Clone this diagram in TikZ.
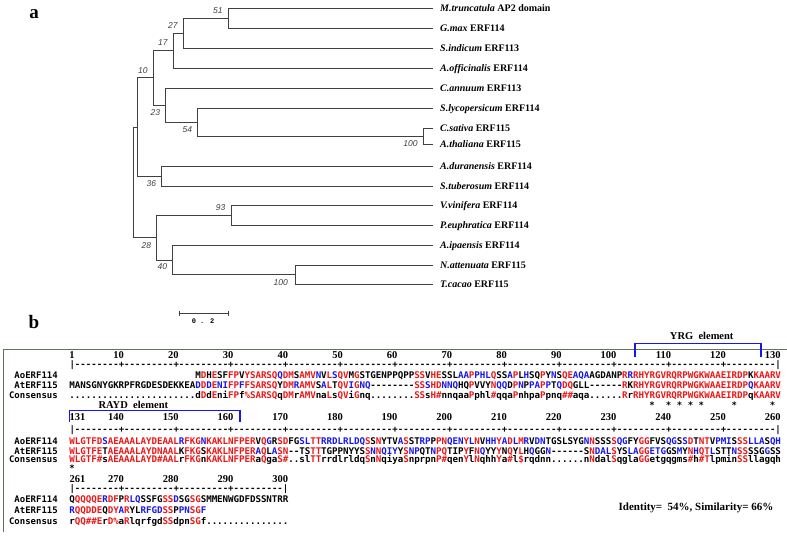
\documentclass[tikz,border=0pt]{standalone}
\usepackage{fontspec}
\setmainfont{Liberation Serif}
\newfontfamily\alnfont{DejaVu Sans Mono}
\newfontfamily\bootfont{Liberation Sans}
\newfontfamily\barfont{Liberation Mono}
\definecolor{alnred}{RGB}{238,22,22}
\definecolor{alnblue}{RGB}{22,22,238}
\definecolor{treegray}{RGB}{64,64,64}
\definecolor{framegreen}{RGB}{92,116,92}

\ExplSyntaxOn
\str_new:N \l__aln_seq_str
\str_new:N \l__aln_con_str
\str_new:N \l__aln_r_str
\str_new:N \l__aln_c_str
\dim_const:Nn \c_aln_cw_dim {5.473pt}
\cs_new_protected:Npn \__aln_color:nn #1#2
  {
    \str_if_empty:nTF {#2}
      { \color{black} }
      {
        \str_if_eq:nnTF {#2} {.}
          { \color{black} }
          {
            \tex_uppercase:D { \str_if_eq:nnTF {#2} } {#2}
              { \color{alnred} }
              {
                \tex_uppercase:D { \str_if_eq:nnTF {#2} } {#1}
                  { \color{alnblue} }
                  { \color{black} }
              }
          }
      }
  }
\cs_new_protected:Npn \__aln_put:nn #1#2
  {
    \hbox_to_wd:nn { \c_aln_cw_dim }
      {
        \hss
        \__aln_color:nn {#1} {#2}
        \str_case:nnF {#1}
          { {_} {} {1} {\#} {2} {\%} {3} {\$} }
          {#1}
        \hss
      }
  }
\cs_generate_variant:Nn \__aln_put:nn { VV }
\NewDocumentCommand \alnseq { O{0} m m }
  {
    \str_set:Nx \l__aln_seq_str {#2}
    \str_set:Nx \l__aln_con_str {#3}
    \skip_horizontal:n { #1 \c_aln_cw_dim }
    \int_step_inline:nn { \str_count:N \l__aln_seq_str }
      {
        \str_set:Nx \l__aln_r_str { \str_item:Nn \l__aln_seq_str {##1} }
        \str_set:Nx \l__aln_c_str { \str_item:Nn \l__aln_con_str { ##1 + #1 } }
        \__aln_put:VV \l__aln_r_str \l__aln_c_str
      }
  }
\NewDocumentCommand \alnruler { m m }
  {
    \int_step_inline:nn {#1}
      {
        \hbox_to_wd:nn { \c_aln_cw_dim }
          {
            \hss
            \bool_if:nTF { \int_compare_p:n { ##1 = 1 } || \int_compare_p:n { ##1 = #1 } }
              { | }
              {
                \int_compare:nNnTF { \int_mod:nn { ##1 + #2 - 1 } {10} } = {0}
                  { + } { - }
              }
            \hss
          }
      }
  }
\ExplSyntaxOff

\newcommand\consone{.......................dDdEniFPf2SARSQqDMrAMVnaLsQViGnq........SSsH1nnqaaPphl1qqaPnhpaPpnq11aqa......RrRHYRGVRQRPWGKWAAEIRDPqKAARV}
\newcommand\constwo{WLGTF1sAEAAALAYD1AALrFKGnKAKLNFPERaQgaS1..slTTrrdlrldqSnNqiyaSnprpnP1qenYlNqhhYa1l3rqdnn......nNdalSqglaGGetgqgms1h1TlpminSSllagqh}
\newcommand\consthree{rQQ11ErD2aRlqrfgdSSdpnSGf...............}

\begin{document}
\begin{tikzpicture}[x=1pt,y=-1pt,
    branch/.style={draw=treegray,line width=0.8pt},
    taxon/.style={anchor=west,inner xsep=7pt,inner ysep=0pt,text height=7.5pt,text depth=1.5pt,font=\fontsize{10}{12}\selectfont\bfseries},
    boot/.style={anchor=east,xshift=-5.5pt,inner sep=0pt,text=treegray,font=\bootfont\itshape\fontsize{8.5}{10}\selectfont},
    panel/.style={inner sep=0pt,font=\fontsize{19}{22}\selectfont\bfseries},
    seqrow/.style={anchor=base west,inner sep=0pt,font=\alnfont\bfseries\fontsize{9.2}{10}\selectfont},
    seqname/.style={anchor=base east,inner sep=0pt,font=\alnfont\bfseries\fontsize{9}{10}\selectfont},
    rulerow/.style={anchor=west,inner sep=0pt,font=\alnfont\bfseries\fontsize{9}{10}\selectfont},
    rulenum/.style={inner sep=0pt,font=\fontsize{10.5}{12}\selectfont\bfseries},
    starmark/.style={inner sep=0pt,font=\alnfont\bfseries\fontsize{9}{10}\selectfont},
    element/.style={draw=alnblue,line width=1.3pt},
    elemtext/.style={inner sep=0pt,font=\fontsize{10.5}{12}\selectfont\bfseries}
  ]
  \useasboundingbox (0,0) rectangle (787,536);

  \node[panel] (pa) at (34,14) {a};
  \node[panel] (pb) at (34,322) {b};

  \node[taxon] (mtru) at (433,8) {\textit{M.truncatula} AP2 domain};
  \node[taxon] (gmax) at (433,28) {\textit{G.max} ERF114};
  \node[taxon] (sind) at (433,48) {\textit{S.indicum} ERF113};
  \node[taxon] (aoff) at (433,68) {\textit{A.officinalis} ERF114};
  \node[taxon] (cann) at (433,88) {\textit{C.annuum} ERF113};
  \node[taxon] (slyc) at (433,108) {\textit{S.lycopersicum} ERF114};
  \node[taxon] (csat) at (433,128) {\textit{C.sativa} ERF115};
  \node[taxon] (atha) at (433,144) {\textit{A.thaliana} ERF115};
  \node[taxon] (adur) at (433,166) {\textit{A.duranensis} ERF114};
  \node[taxon] (stub) at (433,186) {\textit{S.tuberosum} ERF114};
  \node[taxon] (vvin) at (433,205.5) {\textit{V.vinifera} ERF114};
  \node[taxon] (peup) at (433,225) {\textit{P.euphratica} ERF114};
  \node[taxon] (aipa) at (433,245) {\textit{A.ipaensis} ERF114};
  \node[taxon] (natt) at (433,265) {\textit{N.attenuata} ERF115};
  \node[taxon] (tcac) at (433,284.5) {\textit{T.cacao} ERF115};

  \coordinate (root) at (133.3,182.2);
  \coordinate (n0) at (137.7,126.9);
  \coordinate (n10) at (153.3,77.75);
  \coordinate (n17) at (173.3,50.5);
  \coordinate (n27) at (183.3,33);
  \coordinate (n51) at (228.3,18);
  \coordinate (n23) at (165.7,105);
  \coordinate (n54) at (197.7,122);
  \coordinate (n100a) at (423.3,136);
  \coordinate (n36) at (161.7,176);
  \coordinate (n28) at (156.7,237.6);
  \coordinate (n93) at (231,215.25);
  \coordinate (n40) at (172.7,259.9);
  \coordinate (n100b) at (295,274.75);

  \draw[branch] (root) |- (n0);
  \draw[branch] (root) |- (n28);
  \draw[branch] (n0) |- (n10);
  \draw[branch] (n0) |- (n36);
  \draw[branch] (n10) |- (n17);
  \draw[branch] (n10) |- (n23);
  \draw[branch] (n17) |- (n27);
  \draw[branch] (n17) |- (aoff.west);
  \draw[branch] (n27) |- (n51);
  \draw[branch] (n27) |- (sind.west);
  \draw[branch] (n51) |- (mtru.west);
  \draw[branch] (n51) |- (gmax.west);
  \draw[branch] (n23) |- (cann.west);
  \draw[branch] (n23) |- (n54);
  \draw[branch] (n54) |- (slyc.west);
  \draw[branch] (n54) |- (n100a);
  \draw[branch] (n100a) |- (csat.west);
  \draw[branch] (n100a) |- (atha.west);
  \draw[branch] (n36) |- (adur.west);
  \draw[branch] (n36) |- (stub.west);
  \draw[branch] (n28) |- (n93);
  \draw[branch] (n28) |- (n40);
  \draw[branch] (n93) |- (vvin.west);
  \draw[branch] (n93) |- (peup.west);
  \draw[branch] (n40) |- (aipa.west);
  \draw[branch] (n40) |- (n100b);
  \draw[branch] (n100b) |- (natt.west);
  \draw[branch] (n100b) |- (tcac.west);

  \node[boot,yshift=7pt] (b51) at (n51) {51};
  \node[boot,yshift=7.5pt] (b27) at (n27) {27};
  \node[boot,yshift=7.5pt] (b17) at (n17) {17};
  \node[boot,yshift=7.5pt] (b10) at (n10) {10};
  \node[boot,yshift=-7.5pt] (b23) at (n23) {23};
  \node[boot,yshift=-7.5pt] (b54) at (n54) {54};
  \node[boot,yshift=-8pt] (b100a) at (n100a) {100};
  \node[boot,yshift=-8pt] (b36) at (n36) {36};
  \node[boot,yshift=-7.5pt] (b28) at (n28) {28};
  \node[boot,yshift=7.5pt] (b93) at (n93) {93};
  \node[boot,yshift=-7pt] (b40) at (n40) {40};
  \node[boot,yshift=-8pt,xshift=-1.5pt] (b100b) at (n100b) {100};

  \coordinate (sbl) at (179.3,313.3);
  \coordinate (sbr) at (228.3,313.3);
  \draw[branch] (sbl) -- (sbr);
  \draw[branch] ([yshift=2.5pt]sbl) -- ([yshift=-2.5pt]sbl);
  \draw[branch] ([yshift=2.5pt]sbr) -- ([yshift=-2.5pt]sbr);
  \node[inner sep=0pt,font=\barfont\bfseries\fontsize{7}{8}\selectfont] (sbtext) at (203,321.5) {0 . 2};

  \draw[framegreen,line width=1pt] (3.3,532) -- (3.3,349.3) -- (787,349.3);

  \draw[element] (635,356.7) -- (635,343.3) -- (761,343.3) -- (761,356.7);
  \node[elemtext] (yrg) at (701.7,336) {YRG\ \ element};

  \node[rulenum,anchor=base] (ra1) at (72,358.3) {1};
  \foreach \n in {10,20,...,130}
    \node[rulenum,anchor=base east] (ra\n) at ({69.3+\n*5.473},358.3) {\n};
  \node[rulerow] (rul1) at (69.3,365) {\alnruler{130}{1}};
  \node[seqname] (lao1) at (58,378.3) {AoERF114};
  \node[seqname] (lat1) at (58,388.7) {AtERF115};
  \node[seqname] (lcon1) at (58,398.7) {Consensus};
  \node[seqrow] (ao1) at (69.3,378.3) {\alnseq[23]{MDHESFFPVYSARSQQDMSAMVNVLSQVMGSTGENPPQPPSSVHESSLAAPPHLQSSAPLHSQPYNSQEAQAAGDANPRRRHYRGVRQRPWGKWAAEIRDPKKAARV}{\consone}};
  \node[seqrow] (at1) at (69.3,388.7) {\alnseq{MANSGNYGKRPFRGDESDEKKEADDDENIFPFFSARSQYDMRAMVSALTQVIGNQ--------SSSHDNNQHQPVVYNQQDPNPPAPPTQDQGLL------RKRHYRGVRQRPWGKWAAEIRDPQKAARV}{\consone}};
  \node[seqrow] (con1) at (69.3,398.7) {\alnseq{\consone}{\consone}};
  \foreach \p in {107,110,112,114,116,122,129}
    \node[starmark] (sa\p) at ({69.3+(\p-0.5)*5.473},405.5) {*};

  \draw[element] (69.3,421.7) -- (69.3,410.7) -- (240,410.7) -- (240,421.7);
  \node[elemtext] (rayd) at (133.3,405) {RAYD\ \ element};

  \node[rulenum,anchor=base west] (rb131) at (69.3,420) {131};
  \foreach \n in {140,150,...,260}
    \node[rulenum,anchor=base east] (rb\n) at ({69.3+(\n-130)*5.473},420) {\n};
  \node[rulerow] (rul2) at (69.3,430.5) {\alnruler{130}{131}};
  \node[seqname] (lao2) at (58,444.3) {AoERF114};
  \node[seqname] (lat2) at (58,454.3) {AtERF115};
  \node[seqname] (lcon2) at (58,462.5) {Consensus};
  \node[seqrow] (ao2) at (69.3,444.3) {\alnseq{WLGTFDSAEAAALAYDEAALRFKGNKAKLNFPERVQGRSDFGSLTTRRDLRLDQSSNYTVASSTRPPPNQENYLNVHHYADLMRVDNTGSLSYGNNSSSSQGFYGGFVSQGSSDTNTVPMISSSLLASQH}{\constwo}};
  \node[seqrow] (at2) at (69.3,454.3) {\alnseq{WLGTFETAEAAALAYDNAALKFKGSKAKLNFPERAQLASN--TSTTTGPPNYYSSNNQIYYSNPQTNPQTIPYFNQYYYNQYLHQGGN------SNDALSYSLAGGETGGSMYNHQTLSTTNSSSSGGSS}{\constwo}};
  \node[seqrow] (con2) at (69.3,462.5) {\alnseq{\constwo}{\constwo}};
  \node[starmark] (sb131) at ({69.3+0.5*5.473},468.5) {*};

  \node[rulenum,anchor=base west] (rc261) at (69.3,482) {261};
  \foreach \n in {270,280,290,300}
    \node[rulenum,anchor=base east] (rc\n) at ({69.3+(\n-260)*5.473},482) {\n};
  \node[rulerow] (rul3) at (69.3,489.5) {\alnruler{40}{261}};
  \node[seqname] (lao3) at (58,502.7) {AoERF114};
  \node[seqname] (lat3) at (58,513.3) {AtERF115};
  \node[seqname] (lcon3) at (58,524) {Consensus};
  \node[seqrow] (ao3) at (69.3,502.7) {\alnseq{QQQQQERDFPRLQSSFGSSDSGSGSMMENWGDFDSSNTRR}{\consthree}};
  \node[seqrow] (at3) at (69.3,513.3) {\alnseq{RQQDDEQDYARYLRFGDSSPPNSGF}{\consthree}};
  \node[seqrow] (con3) at (69.3,524) {\alnseq{\consthree}{\consthree}};

  \node[inner sep=0pt,font=\fontsize{11}{13}\selectfont\bfseries] (ident) at (696,508.3) {Identity=\ \ 54\%, Similarity= 66\%};
\end{tikzpicture}
\end{document}
